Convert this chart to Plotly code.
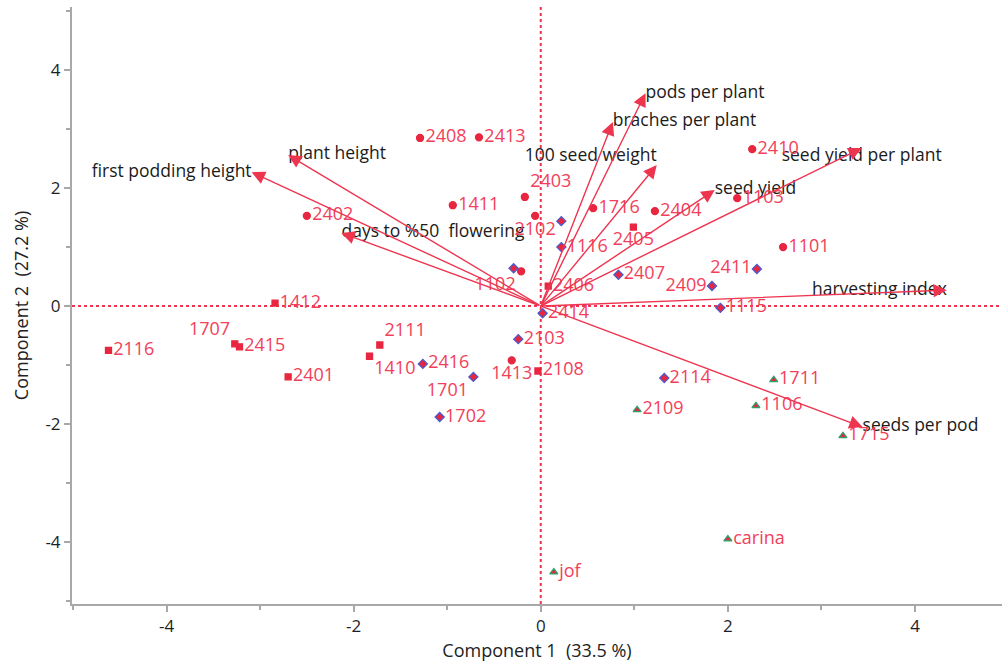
import plotly.graph_objects as go

# Genotype scores on the first two principal components
genotypes = ["2408", "2413", "2403", "1411", "2102", "", "1116", "1716", "2404", "2405",
             "2402", "2410", "1103", "1101", "2411", "2409", "1115", "2407", "2406",
             "1102", "", "2414", "2103", "1413", "2108", "2111", "1410", "2416", "1701",
             "1702", "2114", "2109", "1711", "1106", "1715", "carina", "jof", "1412",
             "1707", "2415", "2116", "2401"]
pc1 = [-1.29, -0.66, -0.17, -0.94, -0.06, 0.22, 0.22, 0.56, 1.22, 0.99,
       -2.50, 2.26, 2.10, 2.59, 2.31, 1.83, 1.92, 0.83, 0.08,
       -0.21, -0.29, 0.02, -0.24, -0.31, -0.03, -1.72, -1.83, -1.26, -0.72,
       -1.08, 1.32, 1.03, 2.49, 2.30, 3.23, 2.00, 0.14, -2.84,
       -3.27, -3.22, -4.62, -2.70]
pc2 = [2.85, 2.86, 1.85, 1.71, 1.53, 1.44, 1.00, 1.66, 1.61, 1.34,
       1.53, 2.66, 1.83, 1.00, 0.63, 0.34, -0.03, 0.53, 0.34,
       0.59, 0.64, -0.12, -0.56, -0.92, -1.10, -0.66, -0.85, -0.98, -1.20,
       -1.88, -1.22, -1.76, -1.25, -1.69, -2.20, -3.95, -4.51, 0.05,
       -0.64, -0.69, -0.75, -1.20]
group = ["a", "a", "a", "a", "a", "c", "c", "a", "a", "b",
         "a", "a", "a", "a", "c", "c", "c", "c", "b",
         "a", "c", "c", "c", "a", "b", "b", "b", "c", "c",
         "c", "c", "d", "d", "d", "d", "d", "d", "b",
         "b", "b", "b", "b"]

# Trait loadings (arrow tips)
traits = ["first podding height", "plant height", "days to %50  flowering",
          "pods per plant", "braches per plant", "100 seed weight",
          "seed yield per plant", "seed yield", "harvesting index", "seeds per pod"]
load1 = [-3.09, -2.70, -2.13, 1.12, 0.77, 1.24, 3.43, 1.86, 4.34, 3.44]
load2 = [2.27, 2.56, 1.24, 3.61, 3.12, 2.39, 2.68, 1.97, 0.27, -2.05]

# axis tick labels
tick_vals = [-4, -2, 0, 2, 4]
tick_text = ["-4", "-2", "0", "2", "4"]

RED = "#e8263f"
LABEL_RED = "#f2405a"
FONT = "Open Sans"

# label placement around each genotype marker
label_pos = {
    "2403": "top right", "2102": "bottom center", "2405": "bottom center",
    "2411": "middle left", "2409": "middle left", "1102": "bottom left",
    "1413": "bottom center", "2111": "top right", "1410": "bottom right",
    "1701": "bottom left", "1707": "top left",
}
trait_pos = {
    "first podding height": "middle left", "100 seed weight": "top left",
    "seed yield per plant": "bottom center", "harvesting index": "middle left",
}

symbols = {"a": "circle", "b": "square", "c": "diamond", "d": "triangle-up"}
sizes = {"a": 7, "b": 6, "c": 7, "d": 7}
lines = {"a": RED, "b": RED, "c": "#4a5bd0", "d": "#2ea06a"}

fig = go.Figure()

# reference lines through the origin
fig.add_shape(type="line", x0=0, x1=0, y0=0, y1=1, xref="x", yref="paper",
              line=dict(color="#ee3550", width=2, dash="dot"), layer="below")
fig.add_shape(type="line", x0=0, x1=1, y0=0, y1=0, xref="paper", yref="y",
              line=dict(color="#ee3550", width=2, dash="dot"), layer="below")

# loading arrows
for t, lx, ly in zip(traits, load1, load2):
    fig.add_annotation(x=lx, y=ly, ax=0, ay=0, xref="x", yref="y", axref="x", ayref="y",
                       text="", showarrow=True, arrowhead=2, arrowsize=1.9,
                       arrowwidth=1.4, arrowcolor="#ee3550")

fig.add_trace(go.Scatter(
    x=load1, y=load2, mode="text", text=traits,
    textposition=[trait_pos.get(t, "middle right") for t in traits],
    textfont=dict(family=FONT, size=17.5, color="#1b1b1b"),
    hoverinfo="skip", showlegend=False))

# genotype markers
for g in ["a", "b", "c", "d"]:
    idx = [i for i, v in enumerate(group) if v == g]
    fig.add_trace(go.Scatter(
        x=[pc1[i] for i in idx], y=[pc2[i] for i in idx],
        mode="markers+text", text=[genotypes[i] for i in idx],
        textposition=[label_pos.get(genotypes[i], "middle right") for i in idx],
        textfont=dict(family=FONT, size=18, color=LABEL_RED),
        marker=dict(symbol=symbols[g], size=sizes[g], color=RED,
                    line=dict(color=lines[g], width=1.3)),
        showlegend=False))

axis_common = dict(
    showgrid=False, zeroline=False, showline=True, linecolor="#a8a8a8", linewidth=2,
    ticks="outside", ticklen=6, tickcolor="#a8a8a8", tickwidth=1.5,
    tickfont=dict(family=FONT, size=17, color="#1e1e2a"),
    minor=dict(dtick=1, tick0=0, ticks="outside", ticklen=4, tickcolor="#a8a8a8", tickwidth=1.5),
    tickmode="array", tickvals=tick_vals, ticktext=tick_text,
)

fig.update_layout(
    width=1002, height=666,
    margin=dict(l=72, r=0, t=7, b=62),
    plot_bgcolor="white", paper_bgcolor="white",
    xaxis=dict(range=[-5.01, 4.93],
               title=dict(text="Component 1  (33.5 %)", standoff=8,
                          font=dict(family=FONT, size=18, color="#222222")),
               **axis_common),
    yaxis=dict(range=[-5.05, 5.07],
               title=dict(text="Component 2  (27.2 %)", standoff=12,
                          font=dict(family=FONT, size=18, color="#222222")),
               **axis_common),
)

fig.write_html("out.html")
